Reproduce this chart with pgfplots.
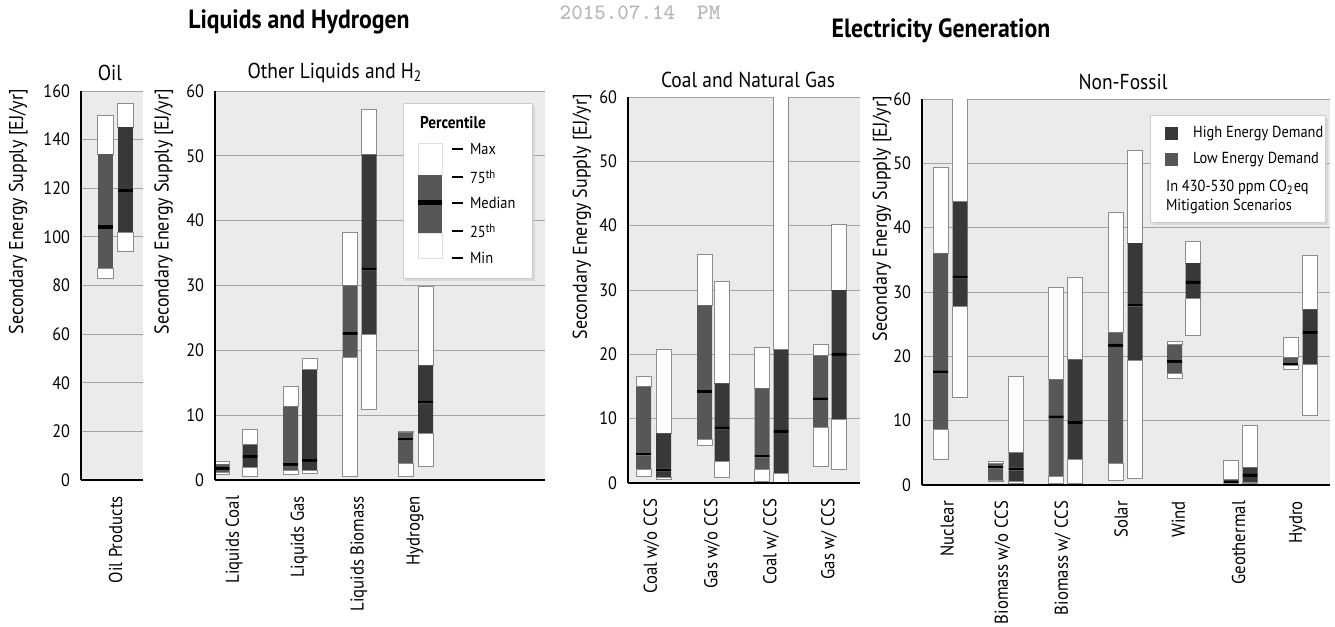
\documentclass[border=0pt]{standalone}
\usepackage{pgfplots}
\pgfplotsset{compat=1.18}
\usepackage{pgfplotstable}
\usepackage{fontspec}
\setmainfont{PT Sans}[FakeStretch=0.9]
\usetikzlibrary{shadows}

\definecolor{lowE}{gray}{0.34}
\definecolor{highE}{gray}{0.22}
\definecolor{panelbg}{gray}{0.92}
\definecolor{gridc}{gray}{0.64}
\definecolor{edge}{gray}{0.55}

% Percentiles of secondary energy supply [EJ/yr]; x = bar position inside its panel
% L = low energy demand, R = high energy demand
\pgfplotstableread{
x    min  q1  med  q3  max
24.5 83   87  104  134 150
}\oilL
\pgfplotstableread{
x    min  q1  med  q3  max
44.5 94   102 119  145 155
}\oilR

\pgfplotstableread{
x     min  q1   med  q3   max
7     0.8  1.2  1.8  2.4  2.8
75.5  0.8  1.4  2.4  11.3 14.4
135   0.5  18.9 22.6 30.0 38.2
190.5 0.5  2.6  6.3  7.3  7.5
}\liqL
\pgfplotstableread{
x     min  q1   med  q3   max
35    0.6  1.9  3.6  5.4  7.8
94.5  1.0  1.4  3.0  17.0 18.8
154   10.8 22.5 32.5 50.2 57.1
210.5 2.1  7.1  12.0 17.7 29.9
}\liqR

\pgfplotstableread{
x     min  q1   med  q3   max
15.5  1.0  2.1  4.5  15.0 16.6
76.5  5.9  6.7  14.2 27.6 35.5
134   0.2  2.1  4.2  14.7 21.1
192.5 2.6  8.7  13.1 19.8 21.5
}\fosL
\pgfplotstableread{
x     min  q1   med  q3   max
35.5  0.5  0.9  2.0  7.7  20.7
94    0.8  3.4  8.5  15.5 31.3
153   0.0  1.4  8.0  20.7 75.0
211   2.1  9.9  20.0 30.0 40.2
}\fosR

\pgfplotstableread{
x     min  q1   med  q3   max
18.5  3.9  8.6  17.6 36.0 49.4
73.5  0.5  0.7  2.8  3.3  3.6
134   0.2  1.3  10.6 16.4 30.7
193.5 0.7  3.3  21.7 23.7 42.4
252.5 16.6 17.4 19.2 21.8 22.3
309   0.1  0.25 0.5  0.8  3.8
368.5 18.0 18.5 18.8 19.8 22.9
}\nfL
\pgfplotstableread{
x     min  q1   med  q3   max
38    13.6 27.8 32.3 44.0 75.0
94    0.3  0.5  2.5  5.0  16.9
153   0.3  3.9  9.7  19.5 32.2
213   1.0  19.3 28.0 37.6 52.0
271   23.3 29.0 31.5 34.5 37.9
328   0.3  0.4  1.5  2.7  9.2
388   10.8 18.8 23.7 27.3 35.6
}\nfR

% one range bar: white min-25th, shaded 25th-75th with a black median band, white 75th-max
\newcommand{\boxbars}[3]{%
  \addplot[draw=none, fill=none] table[x=x, y=min] {#1};
  \addplot[fill=white, draw=edge, line width=0.5pt] table[x=x, y expr=\thisrow{q1}-\thisrow{min}] {#1};
  \addplot[fill=#2, draw=none] table[x=x, y expr=\thisrow{med}-\thisrow{q1}-#3] {#1};
  \addplot[fill=black, draw=none] table[x=x, y expr=2*#3] {#1};
  \addplot[fill=#2, draw=none] table[x=x, y expr=\thisrow{q3}-\thisrow{med}-#3] {#1};
  \addplot[fill=white, draw=edge, line width=0.5pt] table[x=x, y expr=\thisrow{max}-\thisrow{q3}] {#1};
}

\pgfplotsset{
  panel/.style={
    scale only axis, anchor=south west,
    ybar stacked, bar width=15,
    xmin=0, ymin=0, enlargelimits=false,
    major tick length=0pt,
    tick label style={font=\fontsize{9}{10}\selectfont},
    /pgf/number format/assume math mode=true,
  },
  mainpanel/.style={
    panel,
    axis background/.style={fill=panelbg},
    ymajorgrids, grid style={gridc, line width=0.5pt},
    axis lines*=left, axis line style={draw=none},
    xticklabel style={rotate=90, anchor=east, font=\fontsize{9.3}{10}\selectfont},
    xticklabel shift=4.5pt, yticklabel shift=2pt,
    ylabel={Secondary Energy Supply [EJ/yr]},
    label style={font=\fontsize{9}{10}\selectfont},
  },
  ylabx/.style={every axis y label/.style={at={(axis description cs:#1,0.69)}, rotate=90, anchor=center}},
  toppanel/.style={
    panel,
    axis lines*=left, axis line style={line width=1.4pt, black},
    xtick=\empty, ytick=\empty, axis on top,
  },
}

\begin{document}
\begin{tikzpicture}
\fill[white] (0,0) rectangle (667.5pt,-313.5pt);
\useasboundingbox (0,0) rectangle (667.5pt,-313.5pt);

% ---------- Oil ----------
\begin{axis}[mainpanel, ylabx=-1.01, at={(40.5pt,-240pt)}, width=31pt, height=194.5pt,
  xmax=62, ymax=160, ytick distance=20, bar width=15.5,
  xtick={34.5}, xticklabels={Oil Products}]
  \boxbars{\oilL}{lowE}{0.7}
\end{axis}
\begin{axis}[toppanel, at={(40.5pt,-240pt)}, width=31pt, height=194.5pt,
  xmax=62, ymax=160, bar width=15.5]
  \boxbars{\oilR}{highE}{0.7}
\end{axis}

% ---------- Other liquids and hydrogen ----------
\begin{axis}[mainpanel, ylabx=-0.155, at={(107.5pt,-240pt)}, width=165pt, height=194.5pt,
  xmax=330, ymax=60, ytick distance=10,
  xtick={19,84,144,200},
  xticklabels={Liquids Coal, Liquids Gas, Liquids Biomass, Hydrogen}]
  \boxbars{\liqL}{lowE}{0.22}
\end{axis}
\begin{axis}[toppanel, at={(107.5pt,-240pt)}, width=165pt, height=194.5pt,
  xmax=330, ymax=60]
  \boxbars{\liqR}{highE}{0.22}
\end{axis}

% ---------- Coal and natural gas ----------
\begin{axis}[mainpanel, ylabx=-0.198, at={(314pt,-241.5pt)}, width=116pt, height=193pt,
  xmax=232, ymax=60, ytick distance=10,
  xtick={23.5,84,143,201},
  xticklabels={Coal w/o CCS, Gas w/o CCS, Coal w/ CCS, Gas w/ CCS}]
  \boxbars{\fosL}{lowE}{0.22}
\end{axis}
\begin{axis}[toppanel, at={(314pt,-241.5pt)}, width=116pt, height=193pt,
  xmax=232, ymax=60]
  \boxbars{\fosR}{highE}{0.22}
\end{axis}

% ---------- Non-fossil ----------
\begin{axis}[mainpanel, ylabx=-0.098, at={(461pt,-242.5pt)}, width=204pt, height=193pt,
  xmax=408, ymax=60, ytick distance=10,
  xtick={25,80.5,140.5,199,256.5,316.5,375.5},
  xticklabels={Nuclear, Biomass w/o CCS, Biomass w/ CCS, Solar, Wind, Geothermal, Hydro}]
  \boxbars{\nfL}{lowE}{0.22}
\end{axis}
\begin{axis}[toppanel, at={(461pt,-242.5pt)}, width=204pt, height=193pt,
  xmax=408, ymax=60]
  \boxbars{\nfR}{highE}{0.22}
\end{axis}

% ---------- titles and legends (pixel grid, y downwards) ----------
\begin{scope}[x=0.5pt, y=-0.5pt]
  \node[text=gray!55, font=\ttfamily\bfseries\fontsize{11}{11}\selectfont] at (640,13) {2015.07.14\quad PM};
  \node[font=\bfseries\fontsize{13.2}{15}\selectfont] at (299,22) {Liquids and Hydrogen};
  \node[font=\bfseries\fontsize{13.2}{15}\selectfont] at (941,31) {Electricity Generation};
  \node[font=\fontsize{10.8}{12}\selectfont] at (110,73) {Oil};
  \node[font=\fontsize{10.8}{12}\selectfont] at (335,73) {Other Liquids and H\textsubscript{2}};
  \node[font=\fontsize{10.8}{12}\selectfont] at (748,80) {Coal and Natural Gas};
  \node[font=\fontsize{10.8}{12}\selectfont] at (1123,82) {Non-Fossil};

  % percentile key
  \filldraw[fill=white, draw=gray!40, drop shadow={shadow xshift=1.5pt, shadow yshift=-1.5pt, fill=gray!45}]
    (403,103) rectangle (532,278);
  \node[font=\bfseries\fontsize{8.5}{10}\selectfont] at (453,123) {Percentile};
  \filldraw[fill=white, draw=gray!25] (418,143) rectangle (442,175);
  \filldraw[fill=white, draw=gray!25] (418,233) rectangle (442,258);
  \fill[lowE] (418,175) rectangle (442,233);
  \fill[black] (418,200) rectangle (442,205);
  \foreach \yy/\tt in {149/Max, 177/75\textsuperscript{th}, 203/Median, 231/25\textsuperscript{th}, 258/Min}{
    \draw[line width=0.6pt] (452,\yy) -- (463,\yy);
    \node[anchor=west, font=\fontsize{8}{9}\selectfont] at (463,\yy) {\tt};
  }

  % demand key
  \filldraw[fill=white, draw=gray!40, drop shadow={shadow xshift=1.5pt, shadow yshift=-1.5pt, fill=gray!45}]
    (1150,115) rectangle (1325,222);
  \fill[highE] (1165,127) rectangle (1178,140);
  \fill[lowE] (1165,153) rectangle (1178,166);
  \node[anchor=west, font=\fontsize{8}{9}\selectfont] at (1186,133.5) {High Energy Demand};
  \node[anchor=west, font=\fontsize{8}{9}\selectfont] at (1186,159.5) {Low Energy Demand};
  \node[anchor=west, font=\fontsize{8}{9}\selectfont] at (1159,187) {In 430-530 ppm CO\textsubscript{2}eq};
  \node[anchor=west, font=\fontsize{8}{9}\selectfont] at (1159,206) {Mitigation Scenarios};
\end{scope}
\end{tikzpicture}
\end{document}
